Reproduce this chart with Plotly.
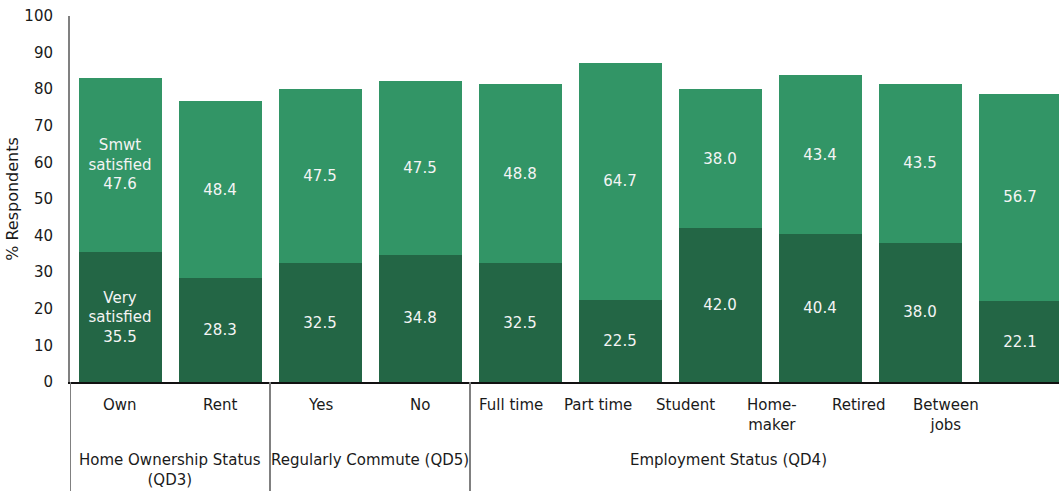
import plotly.graph_objects as go

# Survey results: share of respondents satisfied, by respondent group
categories = ["Own", "Rent", "Yes", "No", "Full time", "Part time",
              "Student", "Home-<br>maker", "Retired", "Between<br>jobs"]
groups = ["Home Ownership Status<br>(QD3)", "Regularly Commute (QD5)",
          "Employment Status (QD4)"]
group_members = [[0, 1], [2, 3], [4, 5, 6, 7, 8, 9]]
very_satisfied = [35.5, 28.3, 32.5, 34.8, 32.5, 22.5, 42.0, 40.4, 38.0, 22.1]
smwt_satisfied = [47.6, 48.4, 47.5, 47.5, 48.8, 64.7, 38.0, 43.4, 43.5, 56.7]
y_ticks = list(range(0, 101, 10))

DARK = "#236645"
LIGHT = "#329566"
FONT = "DejaVu Sans"
TEXT = "#1a1a1a"
SIZE = 15

x = list(range(len(categories)))

very_text = [f"{v:.1f}" for v in very_satisfied]
very_text[0] = "Very<br>satisfied<br>" + very_text[0]
smwt_text = [f"{v:.1f}" for v in smwt_satisfied]
smwt_text[0] = "Smwt<br>satisfied<br>" + smwt_text[0]

fig = go.Figure()
fig.add_trace(go.Bar(
    x=x, y=very_satisfied, name="Very satisfied",
    marker=dict(color=DARK, line=dict(width=0)),
    text=very_text, textposition="inside", insidetextanchor="middle",
    textangle=0, textfont=dict(family=FONT, size=SIZE, color="#f4f4f4"),
))
fig.add_trace(go.Bar(
    x=x, y=smwt_satisfied, name="Smwt satisfied",
    marker=dict(color=LIGHT, line=dict(width=0)),
    text=smwt_text, textposition="inside", insidetextanchor="middle",
    textangle=0, textfont=dict(family=FONT, size=SIZE, color="#f4f4f4"),
))

# Category labels; the employment labels sit on a slightly tighter pitch
label_x = [0, 1, 2, 3] + [3.91 + 0.87 * i for i in range(6)]
plot_h = 366
annotations = []
for lx, cat in zip(label_x, categories):
    annotations.append(dict(
        x=lx, y=-12 / plot_h, xref="x", yref="paper", text=cat,
        showarrow=False, yanchor="top", xanchor="center",
        font=dict(family=FONT, size=SIZE, color=TEXT),
    ))
for g, members in zip(groups, group_members):
    gx = sum(label_x[m] for m in members) / len(members)
    annotations.append(dict(
        x=gx, y=-67 / plot_h, xref="x", yref="paper", text=g,
        showarrow=False, yanchor="top", xanchor="center",
        font=dict(family=FONT, size=SIZE, color=TEXT),
    ))

# Vertical separators between the category groups
shapes = []
for sx in [-0.5, 1.5, 3.5]:
    shapes.append(dict(
        type="line", xref="x", yref="paper", x0=sx, x1=sx,
        y0=0, y1=-109 / plot_h, line=dict(color="#808080", width=2),
    ))

fig.update_layout(
    width=1059, height=491,
    margin=dict(l=70, r=0, t=16, b=109),
    barmode="stack", bargap=0.17,
    showlegend=False,
    plot_bgcolor="white", paper_bgcolor="white",
    font=dict(family=FONT, size=SIZE, color=TEXT),
    annotations=annotations, shapes=shapes,
    uniformtext=dict(minsize=8, mode="show"),
)
fig.update_xaxes(
    range=[-0.5, 9.39], showticklabels=False, ticks="",
    showgrid=False, zeroline=False,
    showline=True, linecolor="#111111", linewidth=1.5,
)
fig.update_yaxes(
    range=[0, 100], tickvals=y_ticks, ticks="", showgrid=False,
    zeroline=False, showline=True, linecolor="#808080", linewidth=2,
    ticklabelstandoff=12,
    tickfont=dict(family=FONT, size=SIZE, color=TEXT),
    title=dict(text="% Respondents", standoff=2,
               font=dict(family=FONT, size=16, color=TEXT)),
)

fig.write_html("out.html")
